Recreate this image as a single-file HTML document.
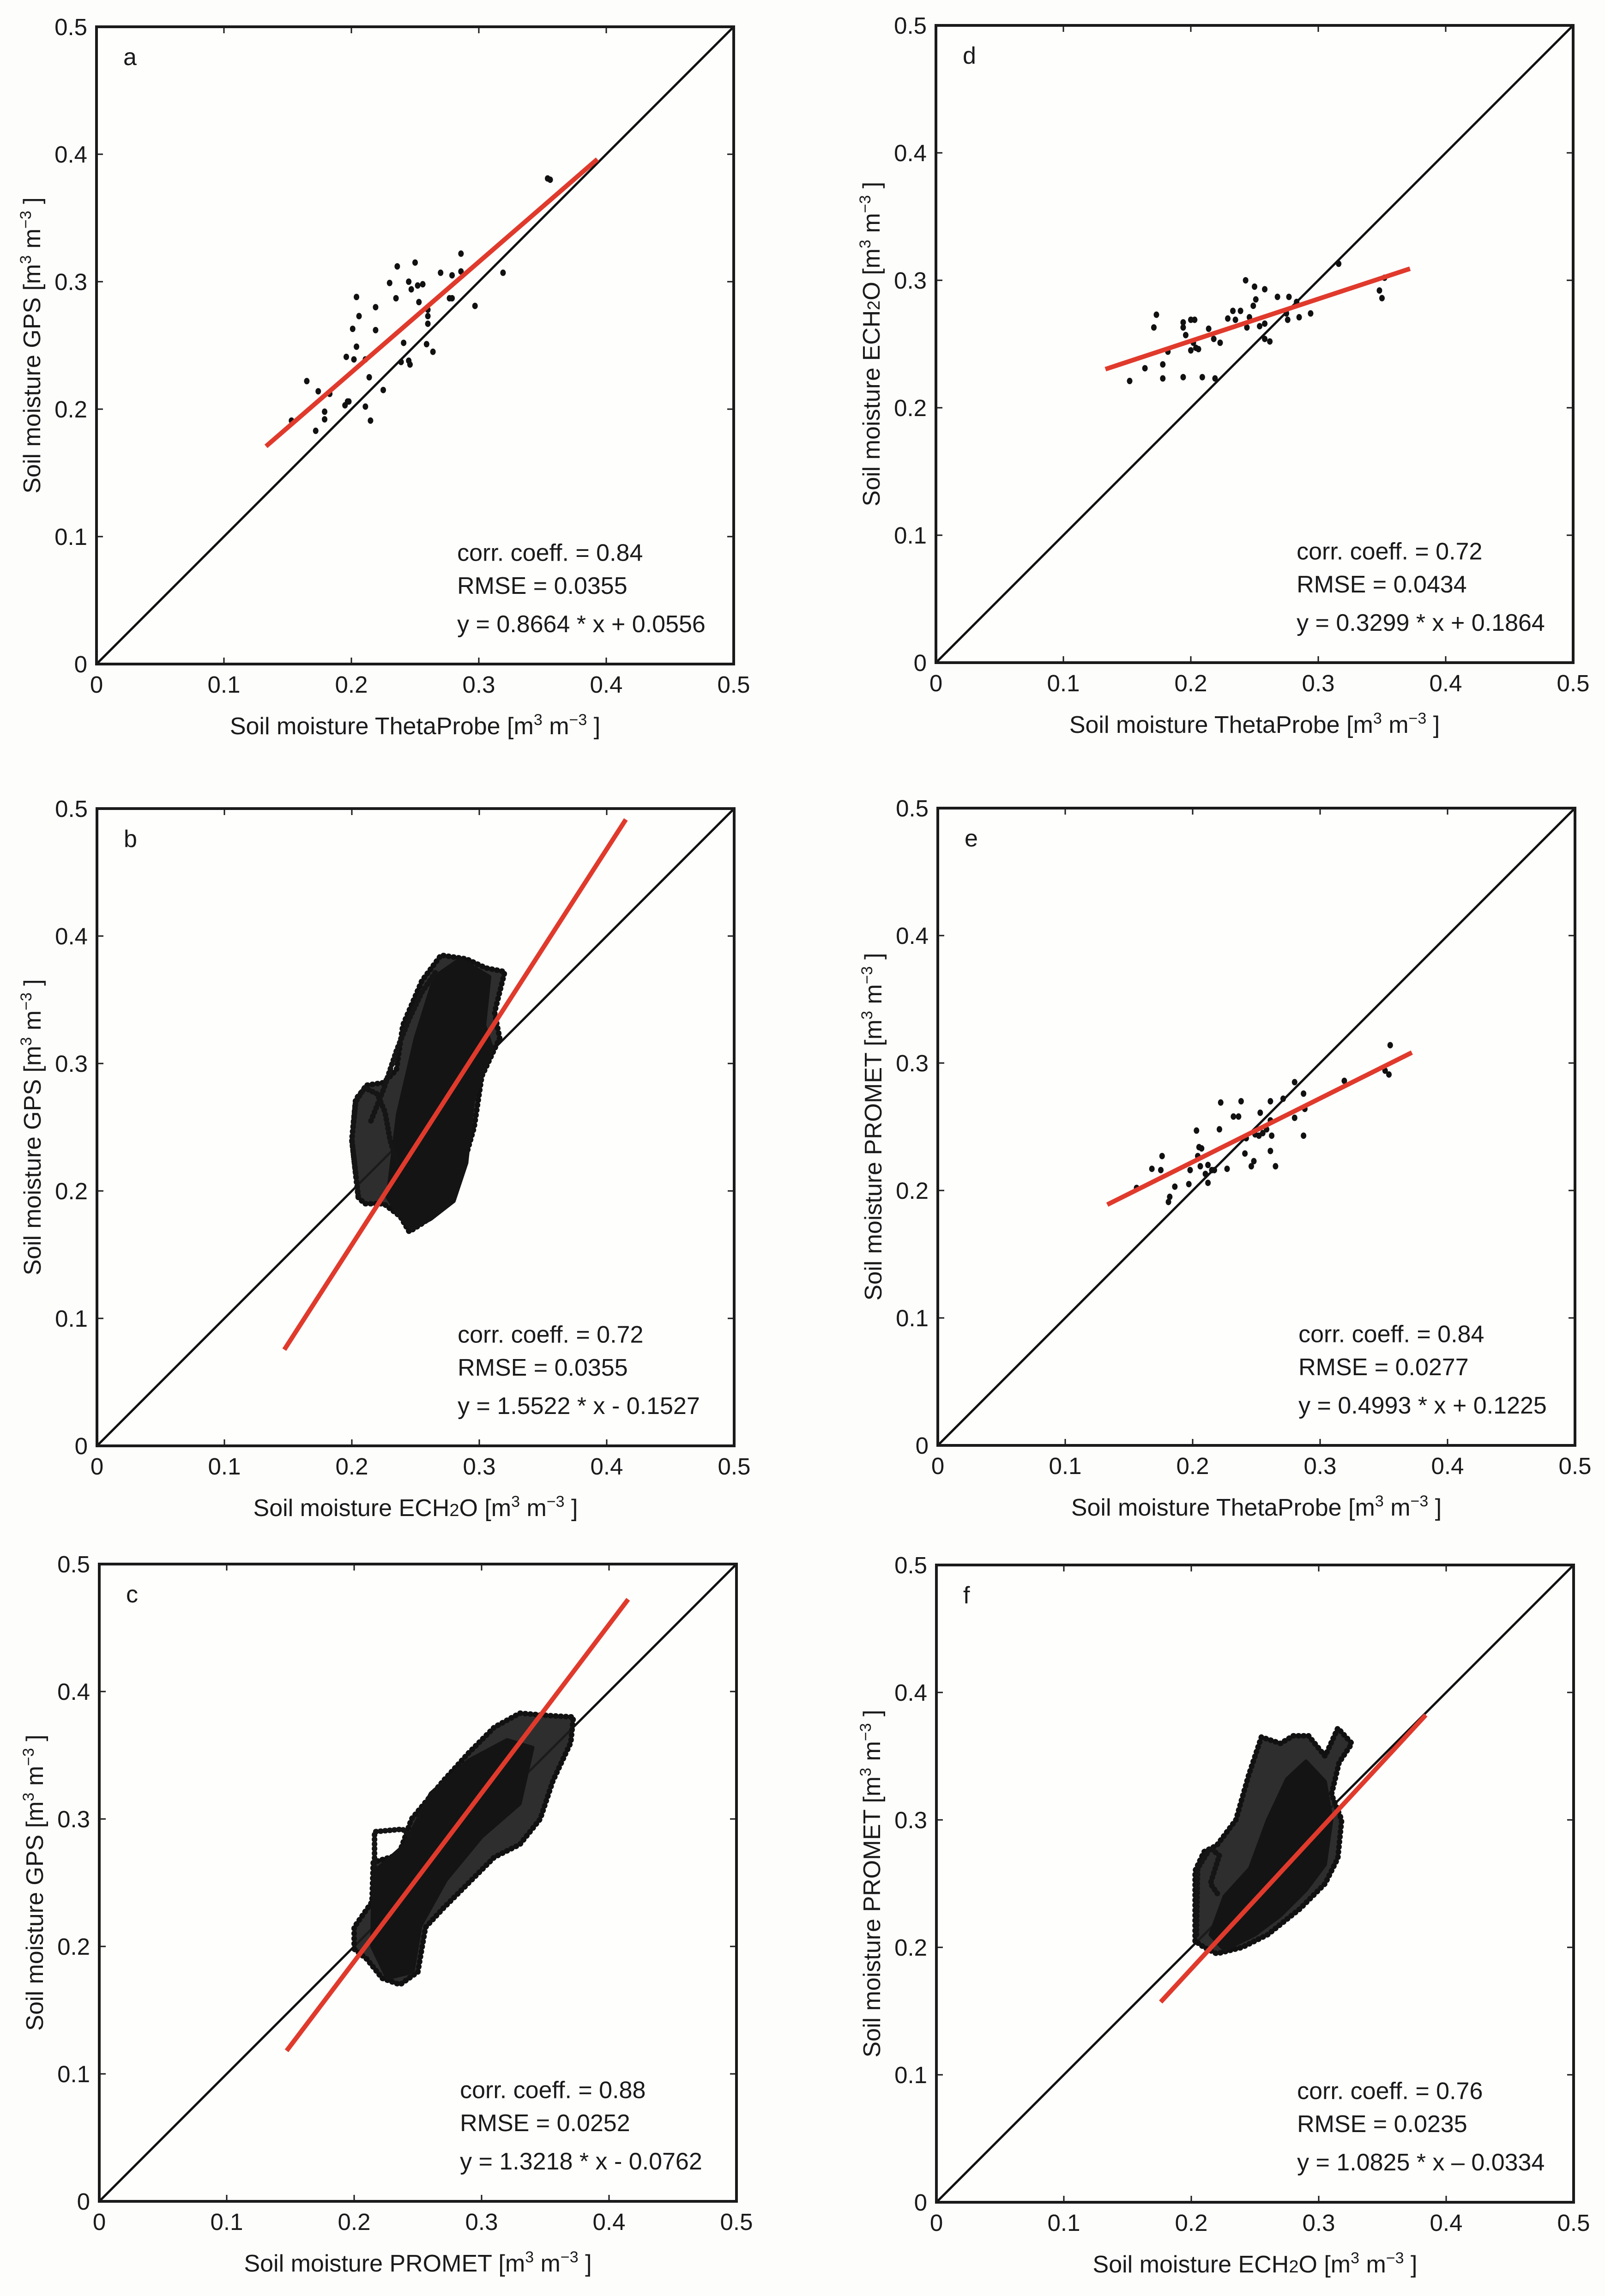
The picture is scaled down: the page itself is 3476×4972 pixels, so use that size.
<!DOCTYPE html>
<html><head><meta charset="utf-8">
<style>
html,body{margin:0;padding:0;background:#fff;}
svg{display:block;}
text{font-family:"Liberation Sans",sans-serif;fill:#1a1a1a;}
</style></head>
<body>
<svg id="fig" xmlns="http://www.w3.org/2000/svg" width="3476" height="4972" viewBox="0 0 3476 4972">
<rect x="0" y="0" width="3476" height="4972" fill="#fdfdfc"/>
</svg>
<script>
// ---------- data ----------
const tickValues = [0, 0.1, 0.2, 0.3, 0.4, 0.5];
const tickLabels = ["0", "0.1", "0.2", "0.3", "0.4", "0.5"];

// panel a: ThetaProbe vs GPS
const aX = [.354,.356,.153,.165,.174,.172,.179,.179,.183,.196,.195,.197,.198,.201,.202,.204,.204,.206,.211,.211,.214,.215,.219,.219,.225,.230,.235,.236,.239,.241,.245,.246,.245,.247,.250,.252,.253,.256,.259,.260,.260,.260,.264,.270,.277,.279,.279,.286,.286,.297,.319];
const aY = [.381,.380,.191,.222,.214,.183,.198,.192,.212,.241,.203,.206,.206,.263,.239,.288,.249,.273,.202,.239,.225,.191,.280,.262,.215,.299,.287,.312,.237,.252,.238,.235,.300,.294,.315,.297,.284,.298,.251,.273,.267,.278,.245,.307,.287,.287,.305,.308,.322,.281,.307];
// panel d: ThetaProbe vs ECH2O
const dX = [.316,.352,.348,.350,.243,.250,.258,.268,.277,.251,.283,.249,.233,.239,.275,.294,.246,.285,.276,.229,.235,.200,.203,.194,.173,.171,.194,.214,.258,.254,.244,.196,.218,.223,.258,.262,.202,.204,.206,.200,.182,.178,.164,.152,.178,.194,.209,.219];
const dY = [.313,.302,.292,.286,.300,.295,.293,.287,.287,.285,.283,.280,.276,.276,.274,.274,.271,.271,.269,.270,.269,.269,.269,.267,.273,.263,.263,.262,.266,.264,.263,.257,.254,.251,.254,.252,.251,.247,.246,.245,.244,.234,.231,.221,.223,.224,.224,.223];
// panel e: ThetaProbe vs PROMET
const eX = [.355,.351,.354,.319,.280,.287,.271,.261,.238,.222,.253,.232,.236,.288,.280,.261,.221,.203,.258,.255,.249,.252,.262,.287,.242,.205,.207,.261,.241,.176,.204,.248,.212,.206,.246,.265,.168,.175,.198,.227,.215,.217,.210,.212,.197,.186,.156,.182,.181];
const eY = [.314,.294,.291,.286,.285,.276,.272,.270,.270,.269,.261,.258,.258,.264,.257,.255,.248,.247,.248,.245,.244,.243,.243,.243,.241,.234,.233,.231,.229,.227,.227,.223,.220,.219,.219,.219,.217,.216,.216,.217,.216,.216,.213,.206,.205,.203,.202,.195,.191];

// panel b: ECH2O vs GPS (dense cloud as outline polygons + tracks)
const bOuter = [[.205,.195],[.200,.240],[.203,.272],[.212,.283],[.225,.285],[.235,.295],[.240,.330],[.255,.365],[.270,.385],[.290,.382],[.305,.375],[.320,.372],[.312,.340],[.316,.320],[.302,.290],[.296,.250],[.286,.215],[.276,.190],[.256,.175],[.245,.168],[.238,.180],[.225,.190],[.210,.190]];
const bCore = [[.228,.195],[.236,.260],[.250,.320],[.265,.368],[.285,.382],[.308,.368],[.304,.330],[.310,.312],[.295,.270],[.290,.222],[.280,.192],[.262,.178],[.247,.170],[.236,.182]];
const bTrack1 = [[.205,.196],[.200,.240],[.203,.270],[.210,.281],[.220,.276],[.226,.262],[.230,.240],[.236,.220]];
const bTrack2 = [[.215,.255],[.225,.280],[.235,.310],[.245,.335],[.255,.356],[.266,.372]];
// panel c: PROMET vs GPS
const cOuter = [[.200,.198],[.200,.215],[.214,.235],[.215,.266],[.235,.272],[.245,.300],[.270,.330],[.290,.352],[.310,.372],[.330,.383],[.355,.381],[.372,.380],[.370,.360],[.356,.330],[.346,.300],[.330,.280],[.310,.270],[.290,.250],[.270,.230],[.256,.215],[.250,.180],[.236,.170],[.222,.175],[.210,.190]];
const cCore = [[.214,.200],[.215,.258],[.240,.280],[.260,.320],[.290,.346],[.320,.362],[.340,.356],[.330,.312],[.300,.286],[.272,.252],[.252,.216],[.246,.180],[.226,.175]];
const cTrack1 = [[.216,.262],[.216,.290],[.238,.292],[.244,.286]];
// panel f: ECH2O vs PROMET
const fOuter = [[.203,.205],[.203,.260],[.210,.275],[.220,.280],[.235,.300],[.245,.335],[.255,.365],[.270,.360],[.280,.366],[.292,.366],[.305,.350],[.315,.372],[.326,.360],[.316,.345],[.310,.320],[.318,.300],[.315,.270],[.305,.250],[.285,.230],[.260,.210],[.240,.200],[.220,.195],[.210,.200]];
const fCore = [[.215,.210],[.226,.240],[.246,.262],[.260,.300],[.275,.332],[.290,.346],[.305,.330],[.310,.300],[.305,.265],[.290,.245],[.270,.225],[.250,.210],[.226,.198]];
const fTrack1 = [[.204,.210],[.205,.262],[.215,.278],[.222,.272],[.215,.250],[.222,.240]];

// regression fits
const fitSlopes = [0.8664, 1.5522, 1.3218, 0.3299, 0.4993, 1.0825];
const fitIntercepts = [0.0556, -0.1527, -0.0762, 0.1864, 0.1225, -0.0334];
const fitXStart = [0.133, 0.147, 0.147, 0.133, 0.133, 0.176];
const fitXEnd = [0.393, 0.415, 0.415, 0.372, 0.372, 0.384];

const panelIds = ["a","b","c","d","e","f"];
const corrValues = ["0.84","0.72","0.88","0.72","0.84","0.76"];
const rmseValues = ["0.0355","0.0355","0.0252","0.0434","0.0277","0.0235"];
const eqTexts = ["y = 0.8664 * x + 0.0556","y = 1.5522 * x - 0.1527","y = 1.3218 * x - 0.0762","y = 0.3299 * x + 0.1864","y = 0.4993 * x + 0.1225","y = 1.0825 * x \u2013 0.0334"];
const xNames = ["ThetaProbe","ECH","PROMET","ThetaProbe","ThetaProbe","ECH"];
const yNames = ["GPS","GPS","GPS","ECH","PROMET","PROMET"];

// ---------- layout ----------
const NS = "http://www.w3.org/2000/svg";
const svg = document.getElementById("fig");
const S = 1380;
const lefts = [209, 210, 215, 2027, 2031, 2028];
const bottoms = [1438, 3131, 4767, 1435, 3130, 4769];
const scatterX = [aX, null, null, dX, eX, null];
const scatterY = [aY, null, null, dY, eY, null];
const clouds = [null, [bOuter, bCore, [bTrack1, bTrack2]], [cOuter, cCore, [cTrack1]], null, null, [fOuter, fCore, [fTrack1]]];

function mk(tag, attrs, parent) {
  const el = document.createElementNS(NS, tag);
  for (const k in attrs) el.setAttribute(k, attrs[k]);
  parent.appendChild(el);
  return el;
}
function label(t, name) {
  const add = (txt, extra) => { const s = document.createElementNS(NS, "tspan"); for (const k in (extra||{})) s.setAttribute(k, extra[k]); s.textContent = txt; t.appendChild(s); return s; };
  if (name === "ECH") { add("Soil moisture ECH"); add("2", {"font-size": "38"}); add("O"); }
  else add("Soil moisture " + name);
  add(" [m");
  add("3", {"font-size": "34", "dy": "-20"});
  add(" m", {"dy": "20"});
  add("\u22123", {"font-size": "34", "dy": "-20"});
  add(" ]", {"dy": "20"});
}

for (let p = 0; p < 6; p++) {
  const L = lefts[p], B = bottoms[p];
  const sx = v => L + v / 0.5 * S;
  const sy = v => B - v / 0.5 * S;
  const g = mk("g", {}, svg);
  
  

  const bg = mk("rect", {x: L, y: B - S, width: S, height: S, fill: "#fefefd"}, g);
  
  

  for (let i = 0; i < tickValues.length; i++) {
    const v = tickValues[i];
    if (i > 0 && i < tickValues.length - 1) {
      const t1 = mk("path", {d: `M${sx(v)},${B} v-14 M${sx(v)},${B - S} v14 M${L},${sy(v)} h14 M${L + S},${sy(v)} h-14`, stroke: "#1a1a1a", "stroke-width": 3, fill: "none"}, g);
      
      
    }
    const xl = mk("text", {x: sx(v), y: B + 62, "font-size": 51, "text-anchor": "middle"}, g);
    xl.textContent = tickLabels[i];
    
    
    const yl = mk("text", {x: L - 20, y: sy(v) + 18, "font-size": 51, "text-anchor": "end"}, g);
    yl.textContent = tickLabels[i];
    
    
  }

  const diag = mk("line", {x1: sx(0), y1: sy(0), x2: sx(0.5), y2: sy(0.5), stroke: "#111", "stroke-width": 5}, g);
  
  

  if (clouds[p]) {
    const [outer, core, tracks] = clouds[p];
    const po = mk("polygon", {points: outer.map(q => sx(q[0]) + "," + sy(q[1])).join(" "), fill: "#1c1c1c", "fill-opacity": 0.92, stroke: "#111", "stroke-width": 12, "stroke-dasharray": "1 10", "stroke-linecap": "round", "stroke-linejoin": "round"}, g);
    
    
    const pc = mk("polygon", {points: core.map(q => sx(q[0]) + "," + sy(q[1])).join(" "), fill: "#141414", stroke: "#141414", "stroke-width": 8, "stroke-linejoin": "round"}, g);
    
    
    tracks.forEach(tr => {
      const pl = mk("polyline", {points: tr.map(q => sx(q[0]) + "," + sy(q[1])).join(" "), fill: "none", stroke: "#151515", "stroke-width": 12, "stroke-dasharray": "1 9", "stroke-linecap": "round"}, g);
      
      
    });
  }
  if (scatterX[p]) {
    const xs = scatterX[p], ys = scatterY[p];
    for (let i = 0; i < xs.length; i++) {
      const c = mk("ellipse", {cx: sx(xs[i]), cy: sy(ys[i]), rx: 6, ry: 7, fill: "#111"}, g);
      
      
    }
  }

  const x0 = fitXStart[p], x1 = fitXEnd[p];
  const rl = mk("line", {x1: sx(x0), y1: sy(fitSlopes[p] * x0 + fitIntercepts[p]), x2: sx(x1), y2: sy(fitSlopes[p] * x1 + fitIntercepts[p]), stroke: "#e03a2c", "stroke-width": 10}, g);
  
  

  const box = mk("rect", {x: L, y: B - S, width: S, height: S, fill: "none", stroke: "#1a1a1a", "stroke-width": 6}, g);
  
  

  const pl = mk("text", {x: sx(0.021), y: sy(0.470), "font-size": 52}, g);
  pl.textContent = panelIds[p];
  
  

  const lines = ["corr. coeff. = " + corrValues[p], "RMSE = " + rmseValues[p], eqTexts[p]];
  const rowsY = [0.081, 0.055, 0.025];
  const names = ['correlation-annotation', 'rmse-annotation', 'equation-annotation'];
  for (let i = 0; i < 3; i++) {
    const t = mk("text", {x: sx(0.283), y: sy(rowsY[i]), "font-size": 52}, g);
    t.textContent = lines[i];
    
    
  }

  const xt = mk("text", {x: L + S / 2, y: B + 152, "font-size": 52, "text-anchor": "middle"}, g);
  label(xt, xNames[p]);
  
  
  const cx = L - 122, cy = B - S / 2;
  const yt = mk("text", {x: cx, y: cy, "font-size": 52, "text-anchor": "middle", transform: `rotate(-90 ${cx} ${cy})`}, g);
  label(yt, yNames[p]);
  
  
}
</script>
</body></html>
